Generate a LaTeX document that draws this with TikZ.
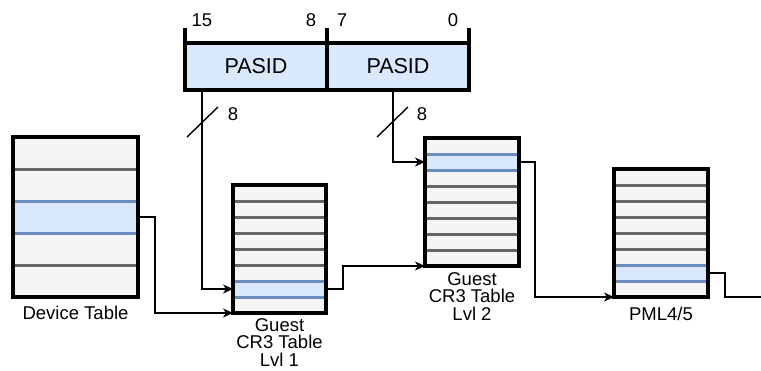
\documentclass[tikz,border=0pt]{standalone}
\usepackage{fontspec}
\setmainfont{Liberation Sans}
\usetikzlibrary{arrows.meta}

\definecolor{cellfill}{HTML}{F5F5F5}
\definecolor{cellline}{HTML}{666666}
\definecolor{hitfill}{HTML}{DAE8FC}
\definecolor{hitline}{HTML}{6C8EBF}

\tikzset{
    tablebox/.style={fill=cellfill, inner sep=0pt, outer sep=0pt, anchor=north west},
    tblframe/.style={draw=black, line width=4pt},
    sepline/.style={draw=cellline, line width=3pt},
    hitrow/.style={draw=hitline, fill=hitfill, line width=3pt, inner sep=0pt, outer sep=0pt, anchor=north west},
    field/.style={draw, line width=3.5pt, fill=hitfill, inner sep=0pt, outer sep=0pt, minimum width=142pt, minimum height=47pt, anchor=north west, font=\fontsize{21.5}{24}\selectfont},
    lbl/.style={inner sep=0pt, font=\fontsize{18.5}{17.5}\selectfont},
    conn/.style={line width=1.4pt, -{Stealth[length=10pt, width=9pt, inset=3pt]}},
    wire/.style={line width=1.4pt}
}

\begin{document}
\begin{tikzpicture}[x=1pt, y=-1pt]
    \useasboundingbox (0,0) rectangle (761,370);

    % PASID fields
    \node[field] (pasidhi) at (185,43) {PASID};
    \node[field] (pasidlo) at (327,43) {PASID};
    \draw[line width=3.5pt] (pasidhi.north west) -- ++(0,-15);
    \draw[line width=3.5pt] (pasidlo.north west) -- ++(0,-15);
    \draw[line width=3.5pt] (pasidlo.north east) -- ++(0,-15);
    \node[lbl] (b15) at (202,20) {15};
    \node[lbl] (b8) at (311,20) {8};
    \node[lbl] (b7) at (342,20) {7};
    \node[lbl] (b0) at (453,20) {0};

    % Device table
    \node[tablebox, minimum width=125pt, minimum height=160pt] (dev) at (13,137) {};
    \node[hitrow, minimum width=125pt, minimum height=32pt] (devsel) at (13,201) {};
    \foreach \y in {169,265}
        \draw[sepline] (dev.west |- 0,\y) -- (dev.east |- 0,\y);
    \draw[tblframe] (dev.north west) rectangle (dev.south east);
    \node[lbl, anchor=north] (devname) at (75.5,306) {Device Table};

    % Guest CR3 table, level 1
    \node[tablebox, minimum width=93pt, minimum height=128pt] (l1) at (233,185) {};
    \node[hitrow, minimum width=93pt, minimum height=16pt] (l1sel) at (233,281) {};
    \foreach \y in {201,217,233,249,265}
        \draw[sepline] (l1.west |- 0,\y) -- (l1.east |- 0,\y);
    \draw[tblframe] (l1.north west) rectangle (l1.south east);
    \node[lbl, anchor=north, align=center] (l1name) at (279.5,318) {Guest\\CR3 Table\\Lvl 1};

    % Guest CR3 table, level 2
    \node[tablebox, minimum width=94pt, minimum height=128pt] (l2) at (425,138) {};
    \node[hitrow, minimum width=94pt, minimum height=16pt] (l2sel) at (425,154) {};
    \foreach \y in {186,202,218,234,250}
        \draw[sepline] (l2.west |- 0,\y) -- (l2.east |- 0,\y);
    \draw[tblframe] (l2.north west) rectangle (l2.south east);
    \node[lbl, anchor=north, align=center] (l2name) at (472,272) {Guest\\CR3 Table\\Lvl 2};

    % PML4/5 table
    \node[tablebox, minimum width=94pt, minimum height=128pt] (pml) at (614,169) {};
    \node[hitrow, minimum width=94pt, minimum height=16pt] (pmlsel) at (614,265) {};
    \foreach \y in {185,201,217,233,249}
        \draw[sepline] (pml.west |- 0,\y) -- (pml.east |- 0,\y);
    \draw[tblframe] (pml.north west) rectangle (pml.south east);
    \node[lbl, anchor=north] (pmlname) at (661,307) {PML4/5};

    % Walk
    \draw[conn] (dev.east |- devsel) -- ++(17,0) |- (l1.south west);
    \draw[conn] ([xshift=17pt]pasidhi.south west) |- (l1.west |- l1sel);
    \draw[wire] (187,137) -- (218,107);
    \node[lbl] (w1) at (233,114) {8};
    \draw[conn] (l1.east |- l1sel) -- ++(17,0) |- (l2.south west);
    \draw[conn] ([xshift=66pt]pasidlo.south west) |- (l2.west |- l2sel);
    \draw[wire] (377,137) -- (408,107);
    \node[lbl] (w2) at (422,114) {8};
    \draw[conn] (l2.east |- l2sel) -- ++(16,0) |- (pml.south west);
    \coordinate (next) at (761,297);
    \draw[wire] (pml.east |- pmlsel) -- ++(17,0) |- (next);
\end{tikzpicture}
\end{document}
